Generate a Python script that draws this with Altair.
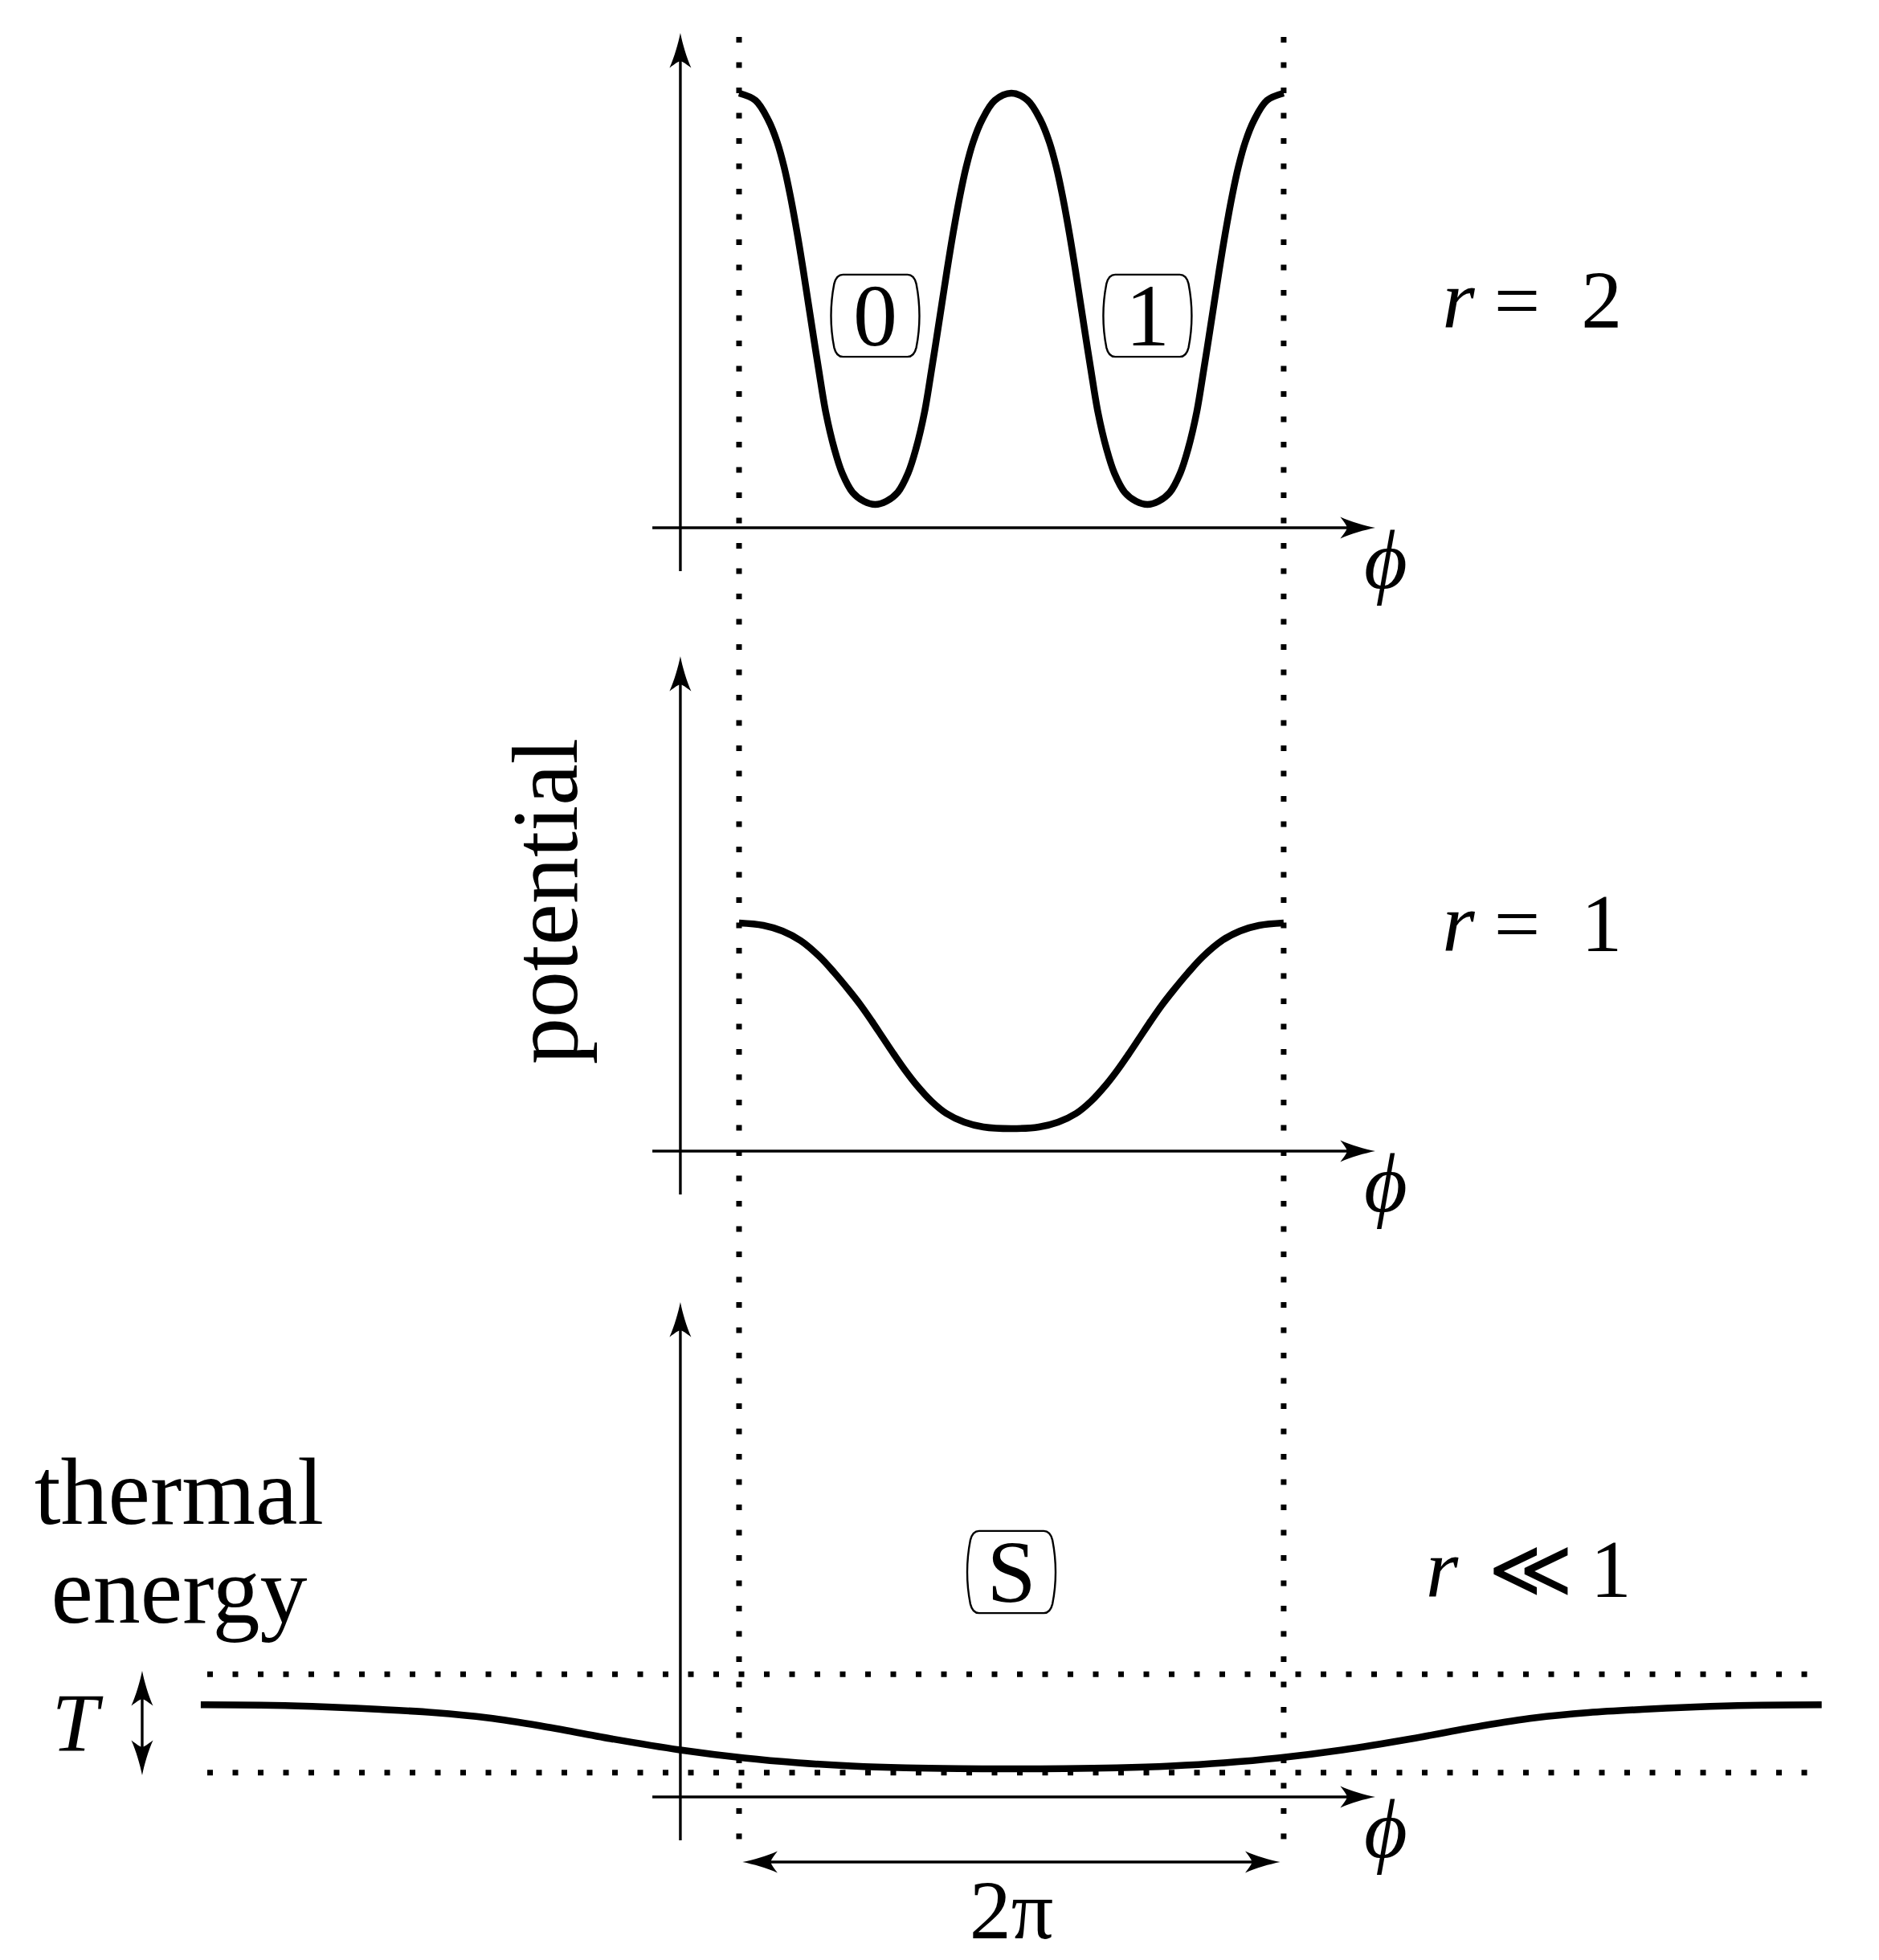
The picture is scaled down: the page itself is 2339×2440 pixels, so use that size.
import altair as alt
import pandas as pd

# ------------------------------------------------------------------
# Values
# x: angle phi (radians); y: potential, measured from each panel's phi-axis
# ------------------------------------------------------------------
TWO_PI = 6.283
PI = 3.142

panel_names = ["r = 2", "r = 1", "r << 1"]
panel_base = [17.75, 9.99, 1.95]          # height of each panel's phi-axis

# r = 2 : two wells (states 0 and 1)
top_phi = [0.00, 0.19, 0.34, 0.44, 0.52, 0.59, 0.67, 0.74, 0.80, 0.86, 0.92, 1.00, 1.10, 1.19, 1.31, 1.44, 1.571,
           1.70, 1.83, 1.95, 2.04, 2.14, 2.22, 2.28, 2.34, 2.40, 2.47, 2.55, 2.62, 2.70, 2.80, 2.95, 3.142,
           3.33, 3.48, 3.58, 3.66, 3.73, 3.81, 3.88, 3.94, 4.00, 4.06, 4.14, 4.24, 4.33, 4.45, 4.58, 4.712,
           4.84, 4.97, 5.09, 5.18, 5.28, 5.36, 5.42, 5.48, 5.54, 5.61, 5.69, 5.76, 5.84, 5.94, 6.09, 6.283]
top_pot = [5.41, 5.32, 5.07, 4.80, 4.49, 4.14, 3.67, 3.21, 2.79, 2.37, 1.96, 1.44, 0.98, 0.68, 0.44, 0.33, 0.29,
           0.33, 0.44, 0.68, 0.98, 1.44, 1.96, 2.37, 2.79, 3.21, 3.67, 4.14, 4.49, 4.80, 5.07, 5.32, 5.41,
           5.32, 5.07, 4.80, 4.49, 4.14, 3.67, 3.21, 2.79, 2.37, 1.96, 1.44, 0.98, 0.68, 0.44, 0.33, 0.29,
           0.33, 0.44, 0.68, 0.98, 1.44, 1.96, 2.37, 2.79, 3.21, 3.67, 4.14, 4.49, 4.80, 5.07, 5.32, 5.41]

# r = 1 : single well
mid_phi = [0.00, 0.28, 0.50, 0.71, 0.93, 1.10, 1.27, 1.40, 1.53, 1.66, 1.79, 1.92, 2.05, 2.22, 2.39, 2.60, 2.82, 3.142,
           3.46, 3.68, 3.89, 4.06, 4.23, 4.36, 4.49, 4.62, 4.75, 4.88, 5.01, 5.18, 5.35, 5.57, 5.78, 6.00, 6.283]
mid_pot = [2.84, 2.81, 2.74, 2.62, 2.42, 2.22, 2.00, 1.82, 1.62, 1.41, 1.20, 1.00, 0.82, 0.62, 0.47, 0.36, 0.30, 0.28,
           0.30, 0.36, 0.47, 0.62, 0.82, 1.00, 1.20, 1.41, 1.62, 1.82, 2.00, 2.22, 2.42, 2.62, 2.74, 2.81, 2.84]

# r << 1 : shallow broad dip, inside the thermal band
bot_phi = [-6.21, -5.38, -4.75, -4.14, -3.52, -2.90, -2.29, -1.48, -0.68, 0.06, 0.68, 1.30, 1.92, 2.53, 3.142,
           3.75, 4.36, 4.98, 5.60, 6.22, 6.96, 7.76, 8.57, 9.18, 9.80, 10.42, 11.03, 11.66, 12.49]
bot_pot = [1.147, 1.14, 1.12, 1.09, 1.05, 0.985, 0.885, 0.725, 0.585, 0.485, 0.425, 0.385, 0.362, 0.352, 0.35,
           0.352, 0.362, 0.385, 0.425, 0.485, 0.585, 0.725, 0.885, 0.985, 1.05, 1.09, 1.12, 1.14, 1.147]

thermal_levels = [1.527, 0.303]           # thermal band (bottom panel)
thermal_extent = [-6.135, 12.48]

state_labels = ["0", "1", "S"]
state_phi = [1.571, 4.712, 3.142]
state_level = [2.64, 2.64, 2.80]
state_panel = [0, 0, 2]

r_italic = ["r", "r", "r"]
r_rest = ["=\u20022", "=\u20021", "\u226a\u20091"]
r_italic_phi = [8.30, 8.30, 8.11]
r_rest_phi = [8.71, 8.71, 8.64]
r_level = 2.49

# ------------------------------------------------------------------
# Layout (figure units)
# ------------------------------------------------------------------
X_DOMAIN = [-8.452, 13.077]
Y_DOMAIN = [-0.08, 24.24]
W, H = 2323, 2432
AXIS_PHI = -0.677          # position of the vertical potential axes
XAXIS_START, XAXIS_TIP = -1.0, 7.34
YAXIS_BELOW, YAXIS_TIP = -0.54, 6.16
HEAD = 0.2

ARROW = "M0,0 C-0.6,-0.12 -1.4,-0.35 -2,-0.62 C-1.75,-0.28 -1.62,-0.12 -1.62,0 C-1.62,0.12 -1.75,0.28 -2,0.62 C-1.4,0.35 -0.6,0.12 0,0 Z"
BOX = ("M-0.73,-0.93 L0.73,-0.93 Q0.88,-0.93 0.93,-0.72 Q1.0,-0.36 1.0,0 Q1.0,0.36 0.93,0.72 "
       "Q0.88,0.93 0.73,0.93 L-0.73,0.93 Q-0.88,0.93 -0.93,0.72 Q-1.0,0.36 -1.0,0 "
       "Q-1.0,-0.36 -0.93,-0.72 Q-0.88,-0.93 -0.73,-0.93 Z")

SERIF = "Liberation Serif, DejaVu Serif, serif"

xs = alt.Scale(domain=X_DOMAIN, nice=False, zero=False)
ys = alt.Scale(domain=Y_DOMAIN, nice=False, zero=False)


def X(f="x"):
    return alt.X(f"{f}:Q", scale=xs, axis=None)


def Y(f="y"):
    return alt.Y(f"{f}:Q", scale=ys, axis=None)


# ---- curves ----
rows = []
for cid, (phis, pots, b) in enumerate([(top_phi, top_pot, panel_base[0]),
                                      (mid_phi, mid_pot, panel_base[1]),
                                      (bot_phi, bot_pot, panel_base[2])]):
    for p, v in zip(phis, pots):
        rows.append({"curve": panel_names[cid], "x": p, "y": b + v})
curves_df = pd.DataFrame(rows)

curves = alt.Chart(curves_df).mark_line(
    color="black", strokeWidth=8.5, interpolate="catmull-rom", strokeCap="butt"
).encode(x=X(), y=Y(), detail="curve:N", order="x:Q")

# ---- dotted guides ----
dots = []
for p in [0.0, TWO_PI]:
    dots.append({"x": p, "x2": p, "y": 23.86, "y2": 1.23})
for lv in thermal_levels:
    dots.append({"x": thermal_extent[0], "x2": thermal_extent[1],
                 "y": panel_base[2] + lv, "y2": panel_base[2] + lv})
dots_df = pd.DataFrame(dots)
dotted = alt.Chart(dots_df).mark_rule(
    color="black", strokeWidth=7, strokeDash=[7, 24.5], strokeCap="butt"
).encode(x=X(), x2="x2:Q", y=Y(), y2="y2:Q")

# ---- solid lines: axes, T arrow, 2pi arrow ----
lines = []
heads = []
for b in panel_base:
    lines.append({"x": AXIS_PHI, "x2": AXIS_PHI, "y": b + YAXIS_BELOW, "y2": b + YAXIS_TIP - HEAD})
    lines.append({"x": XAXIS_START, "x2": XAXIS_TIP - HEAD, "y": b, "y2": b})
    heads.append({"x": AXIS_PHI, "y": b + YAXIS_TIP, "angle": 270})
    heads.append({"x": XAXIS_TIP, "y": b, "angle": 0})
# temperature double arrow
T_PHI = -6.886
t_lo, t_hi = panel_base[2] + 0.27, panel_base[2] + 1.57
lines.append({"x": T_PHI, "x2": T_PHI, "y": t_lo + HEAD, "y2": t_hi - HEAD})
heads.append({"x": T_PHI, "y": t_hi, "angle": 270})
heads.append({"x": T_PHI, "y": t_lo, "angle": 90})
# period double arrow
P_Y = panel_base[2] - 0.81
p_lo, p_hi = 0.04, TWO_PI - 0.04
lines.append({"x": p_lo + HEAD, "x2": p_hi - HEAD, "y": P_Y, "y2": P_Y})
heads.append({"x": p_lo, "y": P_Y, "angle": 180})
heads.append({"x": p_hi, "y": P_Y, "angle": 0})

solid = alt.Chart(pd.DataFrame(lines)).mark_rule(
    color="black", strokeWidth=3.4, strokeCap="butt"
).encode(x=X(), x2="x2:Q", y=Y(), y2="y2:Q")

arrowheads = alt.Chart(pd.DataFrame(heads)).mark_point(
    shape=ARROW, filled=True, color="black", opacity=1, size=1900, strokeWidth=0
).encode(x=X(), y=Y(), angle=alt.Angle("angle:Q", scale=None))

# ---- state boxes ----
box_df = pd.DataFrame({
    "x": state_phi,
    "y": [panel_base[pi] + lv for pi, lv in zip(state_panel, state_level)],
    "label": state_labels,
})
boxes = alt.Chart(box_df).mark_point(
    shape=BOX, filled=False, color="black", opacity=1, size=12100, strokeWidth=2.4
).encode(x=X(), y=Y())

# ---- texts ----
up_rows = [
    {"x": -6.46, "y": panel_base[2] + 3.40, "t": "thermal", "s": 118, "a": 0},
    {"x": -6.46, "y": panel_base[2] + 2.17, "t": "energy", "s": 118, "a": 0},
    {"x": -1.872, "y": 13.10, "t": "potential", "s": 116, "a": 270},
    {"x": PI, "y": panel_base[2] - 1.76, "t": "2π", "s": 104, "a": 0},
]
for lab, p, yy in zip(state_labels, box_df["x"], box_df["y"]):
    up_rows.append({"x": p, "y": yy - 0.37, "t": lab, "s": 110, "a": 0})
upright = alt.Chart(pd.DataFrame(up_rows)).mark_text(
    font=SERIF, align="center", baseline="alphabetic", color="black"
).encode(x=X(), y=Y(), text="t:N", size=alt.Size("s:Q", scale=None),
         angle=alt.Angle("a:Q", scale=None))

left_rows = [{"x": p, "y": b + r_level, "t": t}
             for p, b, t in zip(r_rest_phi, panel_base, r_rest)]
upright_left = alt.Chart(pd.DataFrame(left_rows)).mark_text(
    font=SERIF, align="left", baseline="alphabetic", color="black", fontSize=102
).encode(x=X(), y=Y(), text="t:N")

it_rows = [{"x": p, "y": b + r_level, "t": t}
           for p, b, t in zip(r_italic_phi, panel_base, r_italic)]
for b in panel_base:
    it_rows.append({"x": 7.46, "y": b - 0.75, "t": "ϕ"})
it_rows.append({"x": -7.66, "y": panel_base[2] + 0.57, "t": "T"})
italic = alt.Chart(pd.DataFrame(it_rows)).mark_text(
    font=SERIF, fontStyle="italic", align="center", baseline="alphabetic",
    color="black", fontSize=104
).encode(x=X(), y=Y(), text="t:N")

chart = alt.layer(
    dotted, solid, arrowheads, curves, boxes, upright, upright_left, italic
).properties(
    width=W, height=H, padding=0, autosize="none"
).configure_view(stroke=None)

chart.save("out.html", embed_options={"renderer": "svg", "actions": False})
